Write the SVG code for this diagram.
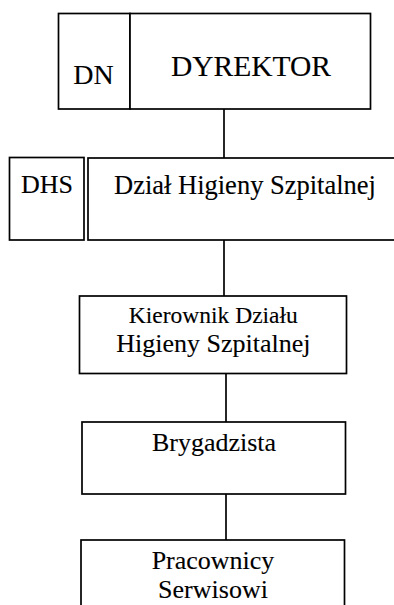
<svg xmlns="http://www.w3.org/2000/svg" width="394" height="605" viewBox="0 0 394 605">
<style>
.box{fill:#fff;stroke:#000;stroke-width:1.7}
.t{fill:#000;stroke:#000;stroke-width:0.12;text-anchor:middle;font-family:"Liberation Serif","Times New Roman",serif}
.conn line{stroke:#000;stroke-width:1.7}
</style>
<rect width="394" height="605" fill="#fff"/>
<g class="conn" id="connectors">
<line x1="224" y1="109" x2="224" y2="158"/>
<line x1="224" y1="240" x2="224" y2="296"/>
<line x1="226" y1="374" x2="226" y2="422"/>
<line x1="226" y1="494" x2="226" y2="540"/>
</g>
<g id="dn">
<rect class="box" x="58.5" y="13.5" width="71.5" height="95.5"/>
<text class="t" x="93.5" y="83.5" font-size="28">DN</text>
</g>
<g id="dyrektor">
<rect class="box" x="130" y="13.5" width="240.5" height="95.5"/>
<text class="t" x="251" y="75.5" font-size="29.5">DYREKTOR</text>
</g>
<g id="dhs">
<rect class="box" x="9.5" y="157.5" width="74.5" height="82.5"/>
<text class="t" x="47" y="192.5" font-size="26">DHS</text>
</g>
<g id="dzial">
<rect class="box" x="88" y="158" width="330" height="82"/>
<text class="t" x="245" y="194" font-size="26.5">Dział Higieny Szpitalnej</text>
</g>
<g id="kierownik">
<rect class="box" x="79.5" y="296" width="267" height="77.5"/>
<text class="t" x="213.3" y="322.7" font-size="23.5">Kierownik Działu</text>
<text class="t" x="213.3" y="352" font-size="26">Higieny Szpitalnej</text>
</g>
<g id="brygadzista">
<rect class="box" x="82" y="422" width="263.5" height="72"/>
<text class="t" x="214" y="451" font-size="26">Brygadzista</text>
</g>
<g id="pracownicy">
<rect class="box" x="81" y="540" width="263.5" height="80"/>
<text class="t" x="213" y="569.3" font-size="26">Pracownicy</text>
<text class="t" x="213" y="598.3" font-size="26">Serwisowi</text>
</g>
</svg>
